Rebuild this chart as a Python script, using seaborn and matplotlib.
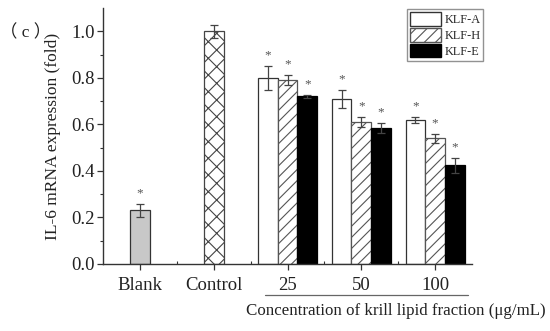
import matplotlib
matplotlib.use("Agg")
import matplotlib.pyplot as plt
from matplotlib.patches import Patch
import seaborn as sns
import pandas as pd

# ---- data ----
groups = ["Blank", "Control", "25", "50", "100"]
single_groups = ["Blank", "Control"]
single_values = [0.23, 1.00]
single_errors = [0.028, 0.027]
single_stars = [True, False]

conc_groups = ["25", "50", "100"]
series = ["KLF-A", "KLF-H", "KLF-E"]
klf_a = [0.80, 0.71, 0.62]
klf_h = [0.79, 0.61, 0.54]
klf_e = [0.72, 0.585, 0.425]
err_a = [0.052, 0.038, 0.012]
err_h = [0.022, 0.022, 0.018]
err_e = [0.008, 0.022, 0.032]

sns.set_theme(style="ticks")
plt.rcParams["font.family"] = ["Liberation Serif", "Noto Sans CJK SC", "DejaVu Sans"]
plt.rcParams["hatch.linewidth"] = 0.8

single_df = pd.DataFrame({"group": single_groups, "value": single_values})
rows = []
for s, vals in zip(series, [klf_a, klf_h, klf_e]):
    for g, v in zip(conc_groups, vals):
        rows.append({"group": g, "series": s, "value": v})
klf_df = pd.DataFrame(rows)

fig = plt.figure(figsize=(5.5, 3.31), dpi=100)
ax = fig.add_axes([103 / 550, 1 - 264 / 331, 369 / 550, 256 / 331])

edge = "#333333"
sns.barplot(data=klf_df, x="group", y="value", hue="series", order=groups,
            hue_order=series, width=0.8, ax=ax, legend=False,
            edgecolor=edge, linewidth=0.9)
sns.barplot(data=single_df, x="group", y="value", order=groups,
            width=0.267, ax=ax, edgecolor=edge, linewidth=0.9)

containers = ax.containers
styles = [("white", None), ("white", "///"), ("black", None)]
klf_errs = [err_a, err_h, err_e]
star_kw = dict(ha="center", va="center", fontsize=9.5, color="#555555")
for cont, (fc, hatch), errs in zip(containers[:3], styles, klf_errs):
    for bar, e in zip(cont.patches, errs):
        bar.set_facecolor(fc)
        bar.set_edgecolor(edge if fc == "white" else "black")
        if hatch:
            bar.set_hatch(hatch)
            bar.set_edgecolor("#555555")
        x = bar.get_x() + bar.get_width() / 2
        h = bar.get_height()
        ax.errorbar(x, h, yerr=e, fmt="none", ecolor="#444444",
                    elinewidth=0.9, capsize=3, capthick=0.9)
        ax.text(x, h + e + 0.045, "*", **star_kw)

single_cont = containers[3]
single_styles = [("#c8c8c8", None), ("white", "xx")]
for bar, (fc, hatch), e, st in zip(single_cont.patches, single_styles,
                                   single_errors, single_stars):
    bar.set_facecolor(fc)
    if hatch:
        bar.set_hatch(hatch)
        bar.set_edgecolor("#444444")
    x = bar.get_x() + bar.get_width() / 2
    h = bar.get_height()
    ax.errorbar(x, h, yerr=e, fmt="none", ecolor="#444444",
                elinewidth=0.9, capsize=3, capthick=0.9)
    if st:
        ax.text(x, h + e + 0.045, "*", **star_kw)

ax.set_xlim(-0.5, 4.5)
ax.set_ylim(0, 1.1)
ax.set_yticks([0.0, 0.2, 0.4, 0.6, 0.8, 1.0])
ax.set_yticks([0.1, 0.3, 0.5, 0.7, 0.9], minor=True)
ax.set_xticks([0.5, 1.5, 2.5, 3.5], minor=True)
ax.yaxis.set_major_formatter(matplotlib.ticker.FormatStrFormatter("%.1f"))
ax.tick_params(axis="both", which="major", labelsize=13.5, length=4,
               width=0.9, color="#333333", direction="out", pad=2,
               labelcolor="#222222")
ax.tick_params(axis="y", which="minor", length=2.5, width=0.8, color="#333333")
ax.tick_params(axis="x", which="minor", length=2.5, width=0.8, color="#333333",
               direction="in")
ax.tick_params(axis="x", which="major", pad=5)
for sp in ["top", "right"]:
    ax.spines[sp].set_visible(False)
for sp in ["left", "bottom"]:
    ax.spines[sp].set_color("#333333")
    ax.spines[sp].set_linewidth(1.0)

ax.set_ylabel("IL-6 mRNA expression (fold)", fontsize=12.5, color="#222222")
ax.yaxis.set_label_coords((61 - 103) / 369, 0.5)
ax.set_xlabel("Concentration of krill lipid fraction (\u03bcg/mL)",
              fontsize=12.2, color="#222222")
ax.xaxis.set_label_coords((396 - 103) / 369, (264 - 303) / 256)
ax.xaxis.label.set_va("top")

# underline bracket below concentration labels
ax.plot([1.7, 4.45], [-0.121, -0.121], transform=ax.get_xaxis_transform(),
        color="#666666", linewidth=0.9, clip_on=False)

fig.text(0.0, 1 - 33 / 331, "\uff08 c \uff09", fontsize=12.5, va="center",
         ha="left", color="#222222")

handles = [Patch(facecolor="white", edgecolor=edge, label="KLF-A"),
           Patch(facecolor="white", edgecolor="#555555", hatch="///", label="KLF-H"),
           Patch(facecolor="black", edgecolor="black", label="KLF-E")]
leg = fig.legend(handles=handles, loc="upper left",
                 bbox_to_anchor=(407 / 550, 1 - 9 / 331), fontsize=8.8,
                 frameon=True, fancybox=False, handlelength=2.5,
                 handleheight=1.35, labelspacing=0.15, handletextpad=0.3,
                 borderpad=0.25, borderaxespad=0)
leg.get_frame().set_edgecolor("#777777")
leg.get_frame().set_linewidth(1.0)

fig.savefig("out.png", dpi=100)
